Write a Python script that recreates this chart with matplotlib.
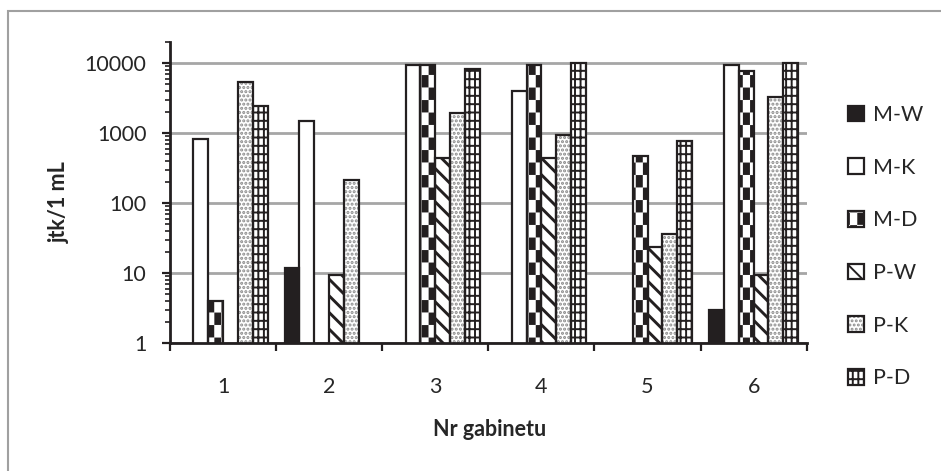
import warnings
import numpy as np
import matplotlib
matplotlib.use('Agg')
import matplotlib.pyplot as plt
import matplotlib.hatch as mhatch
from matplotlib.path import Path
from matplotlib.patches import Rectangle
from matplotlib.legend_handler import HandlerTuple

warnings.filterwarnings('ignore')

# dane (jtk/1 mL), brak slupka = nan
gabinety = ['1', '2', '3', '4', '5', '6']
serie = ['M-W', 'M-K', 'M-D', 'P-W', 'P-K', 'P-D']
m_w = [np.nan, 12, np.nan, np.nan, np.nan, 3]
m_k = [830, 1500, 9500, 4000, np.nan, 9500]
m_d = [4, np.nan, 9500, 9500, 475, 7600]
p_w = [np.nan, 9.5, 440, 440, 23.5, 9.5]
p_k = [5350, 215, 1970, 946, 36.5, 3250]
p_d = [2450, np.nan, 8200, 10000, 785, 10000]
wartosci = [m_w, m_k, m_d, p_w, p_k, p_d]
yticks = [1, 10, 100, 1000, 10000]


# duza szachownica (jak wypelnienie w Excelu) jako wlasny wzor kreskowania 'c'
class Szachownica(mhatch.HatchPatternBase):
    nx, ny = 14, 8

    def __init__(self, hatch, density):
        self.on = 'c' in hatch
        self.num_vertices = (self.nx * self.ny // 2) * 5 if self.on else 0

    def set_vertices_and_codes(self, vertices, codes):
        d = 0.011
        k = 0
        for i in range(self.nx):
            for j in range(self.ny):
                if (i + j) % 2:
                    continue
                x0, x1 = i / self.nx + d, (i + 1) / self.nx - d
                y0, y1 = j / self.ny + d, (j + 1) / self.ny - d
                vertices[k:k + 5] = [[x0, y0], [x1, y0], [x1, y1], [x0, y1], [x0, y0]]
                codes[k:k + 5] = [Path.MOVETO, Path.LINETO, Path.LINETO,
                                  Path.LINETO, Path.CLOSEPOLY]
                k += 5


mhatch._hatch_types.append(Szachownica)

plt.rcParams['font.family'] = ['Lato', 'DejaVu Sans']
kolor_txt = '#262626'

# wyglad serii: (wypelnienie, kreskowanie, kolor kreskowania, grubosc kreskowania)
styl = {
    'M-W': ('#231f20', None, '#231f20', 1.5),
    'M-K': ('white', None, 'black', 1.5),
    'M-D': ('white', 'c', '#231f20', 1.5),
    'P-W': ('white', '\\\\', '#231f20', 2.1),
    'P-K': ('white', '....', '#8a8a8a', 1.5),
    'P-D': ('white', '|||--', '#231f20', 1.4),
}

fig = plt.figure(figsize=(9.41, 4.71), dpi=100)
ax = fig.add_axes([170 / 941, 1 - 343.3 / 471, 636.7 / 941, 301.3 / 471])

x = np.arange(len(gabinety)) + 0.5
w = 0.14
uchwyty = []
for k, (nazwa, vals) in enumerate(zip(serie, wartosci)):
    fc, h, hc, hlw = styl[nazwa]
    plt.rcParams['hatch.linewidth'] = hlw
    pos = x + (k - 2.5) * w
    ax.bar(pos, vals, w, facecolor=fc, hatch=h, edgecolor=hc, linewidth=0, zorder=2)
    ax.bar(pos, vals, w, fill=False, edgecolor='#231f20', linewidth=1.6, zorder=3)
    p1 = Rectangle((0, 0), 1, 1, facecolor=fc, hatch=h, edgecolor=hc, linewidth=0)
    p2 = Rectangle((0, 0), 1, 1, fill=False, edgecolor='#231f20', linewidth=1.6)
    uchwyty.append((p1, p2))

ax.set_yscale('log')
ax.set_ylim(1, 20000)
ax.set_xlim(0, len(gabinety))
ax.set_yticks(yticks, [str(v) for v in yticks])
ax.yaxis.set_minor_locator(matplotlib.ticker.LogLocator(subs=np.arange(2, 10)))
ax.yaxis.set_minor_formatter(matplotlib.ticker.NullFormatter())
ax.set_xticks(np.arange(len(gabinety) + 1))
ax.set_xticklabels([])
ax.set_xticks(x, gabinety, minor=True)

ax.tick_params(axis='y', which='major', length=6, width=1.6, pad=11,
               labelsize=15.5, labelcolor=kolor_txt, color='#231f20')
ax.tick_params(axis='y', which='minor', length=3.5, width=1.2, color='#231f20')
ax.tick_params(axis='x', which='major', length=6, width=1.6, color='#231f20')
ax.tick_params(axis='x', which='minor', length=0, pad=24, labelsize=15.5,
               labelcolor=kolor_txt)

ax.yaxis.grid(True, which='major', color='#a6a6a6', linewidth=2)
ax.set_axisbelow(True)
for s in ['top', 'right']:
    ax.spines[s].set_visible(False)
for s in ['left', 'bottom']:
    ax.spines[s].set_linewidth(2)
    ax.spines[s].set_color('#231f20')
    ax.spines[s].set_zorder(4)

ax.set_ylabel('jtk/1 mL', fontsize=15.5, fontweight='bold', color=kolor_txt)
ax.yaxis.label.set(ha='center', va='center', rotation_mode='anchor')
ax.yaxis.set_label_coords((59.5 - 170) / 636.7, (343.3 - 202) / 301.3)
ax.set_xlabel('Nr gabinetu', fontsize=15.5, fontweight='bold', color=kolor_txt)
ax.xaxis.label.set(ha='center', va='center')
ax.xaxis.set_label_coords((490 - 170) / 636.7, (343.3 - 429) / 301.3)


def legenda(ls, y_top):
    return fig.legend(uchwyty, serie, handler_map={tuple: HandlerTuple(ndivide=1)},
                      loc='upper left', bbox_to_anchor=(848 / 941, 1 - y_top / 471),
                      frameon=False, fontsize=15.5, handlelength=0.75,
                      handleheight=0.75, handletextpad=0.4, labelspacing=ls,
                      borderpad=0, borderaxespad=0, labelcolor=kolor_txt)


# dopasowanie odstepow legendy do oryginalu (wiersze co ~52.7 px, pierwszy na 115 px)
ls, y_top = 1.75, 102
leg = legenda(ls, y_top)
fig.canvas.draw()
r = fig.canvas.get_renderer()
c = [471 - t.get_window_extent(r).y0 / 2 - t.get_window_extent(r).y1 / 2 for t in leg.get_texts()]
pitch = (c[-1] - c[0]) / (len(c) - 1)
ls += (52.7 - pitch) / (15.5 * 100 / 72)
y_top += 115 - c[0]
leg.remove()
leg = legenda(ls, y_top)

# szara ramka wokol wykresu (przycieta z prawej i z dolu)
fig.add_artist(Rectangle((8 / 941, -0.05), 1.1, 1 - 11 / 471 + 0.05,
                         transform=fig.transFigure, fill=False,
                         edgecolor='#a0a0a0', linewidth=1.5))

fig.savefig('out.png', dpi=100)
